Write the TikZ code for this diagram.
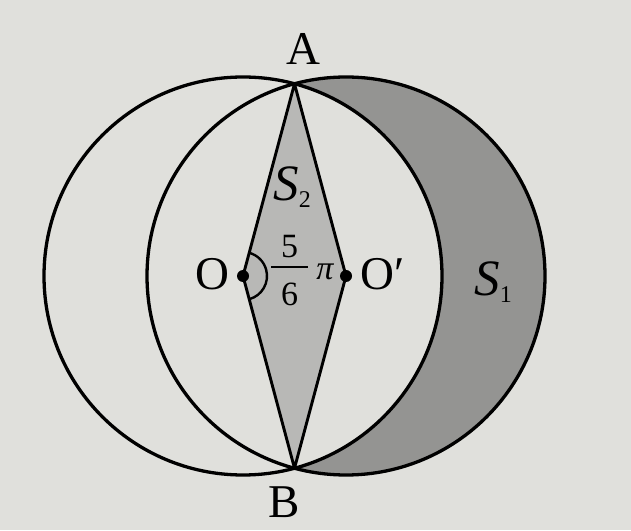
\documentclass[tikz,border=0pt]{standalone}
\usepackage{fontspec}
\setmainfont{Liberation Serif}
\usetikzlibrary{calc}
\definecolor{bgc}{RGB}{224,224,220}
\definecolor{rhombc}{RGB}{184,184,182}
\definecolor{cresc}{RGB}{148,148,146}
\begin{document}
\begin{tikzpicture}[x=1pt,y=1pt,
  line width=3.3pt,
  lbl/.style={font=\fontsize{47}{52}\selectfont, inner sep=0pt},
  slbl/.style={font=\fontsize{51}{56}\selectfont, inner sep=0pt},
  frc/.style={font=\fontsize{34}{40}\selectfont, inner sep=0pt},
  dotc/.style={circle, fill=black, inner sep=0pt, minimum size=12pt}]
\fill[bgc] (0,0) rectangle (631,530);
\useasboundingbox (0,0) rectangle (631,530);
\coordinate (O) at (243,254);
\coordinate (Op) at (346,254);
\coordinate (A) at (294.5,446.2);
\coordinate (B) at (294.5,61.8);
% crescent S1
\fill[cresc] (A) arc[start angle=105, end angle=-105, radius=199]
  arc[start angle=-75, end angle=75, radius=199] -- cycle;
% rhombus S2
\fill[rhombc] (A) -- (O) -- (B) -- (Op) -- cycle;
% circles
\draw (O) circle[radius=199];
\draw (Op) circle[radius=199];
% rhombus sides
\draw[line width=2.9pt, line join=round] (A) -- (O) -- (B) -- (Op) -- cycle;
% angle mark
\draw[line width=2.4pt] ($(O)+(-75:24)$) arc[start angle=-75, end angle=75, radius=24];
\node[dotc] (dO) at (O) {};
\node[dotc] (dOp) at (Op) {};
% labels
\node[lbl] (lA) at (303,481) {A};
\node[lbl] (lB) at (284,28) {B};
\node[lbl] (lO) at (212,256) {O};
\node[lbl] (lOp) at (383,256) {O′};
\node[slbl] (lS2) at (292,343) {\itshape S\raisebox{-7pt}{\fontsize{24}{26}\selectfont\upshape 2}};
\node[slbl] (lS1) at (493,248) {\itshape S\raisebox{-7pt}{\fontsize{24}{26}\selectfont\upshape 1}};
\node[frc] (l5) at (289.5,283) {5};
\node[frc] (l6) at (289.5,236) {6};
\coordinate (barL) at (271,263);
\coordinate (barR) at (308,263);
\draw[line width=2pt] (barL) -- (barR);
\node[frc] (lpi) at (325,258) {\itshape π};
\end{tikzpicture}
\end{document}
